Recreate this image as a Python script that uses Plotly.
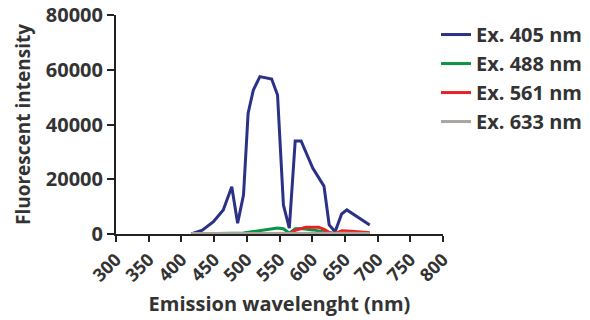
import plotly.graph_objects as go

wl_405 = [415, 432, 449, 464, 477, 486, 495, 502, 510, 520, 538, 547, 556, 565, 574, 583, 601, 618, 626, 635, 645, 653, 688]
int_405 = [0, 1400, 4500, 8800, 17300, 3900, 14300, 44100, 52600, 57500, 56600, 50800, 10600, 2100, 34000, 34000, 24000, 17500, 3300, 800, 7300, 8800, 3300]

wl_488 = [415, 449, 477, 495, 510, 530, 547, 556, 565, 574, 583, 601, 618, 626, 635, 653, 688]
int_488 = [0, 100, 200, 400, 900, 1500, 2200, 1900, 300, 1900, 2000, 1500, 800, 300, 100, 100, 50]

wl_561 = [565, 574, 590, 610, 618, 626, 635, 645, 660, 688]
int_561 = [0, 1300, 2500, 2500, 1700, 600, 100, 1200, 1000, 500]

wl_633 = [415, 450, 500, 550, 600, 650, 688]
int_633 = [150, 200, 250, 250, 250, 250, 200]

series = [
    ("Ex. 405 nm", wl_405, int_405, "#2B3186"),
    ("Ex. 488 nm", wl_488, int_488, "#0B9444"),
    ("Ex. 561 nm", wl_561, int_561, "#EC2024"),
    ("Ex. 633 nm", wl_633, int_633, "#ABA5A1"),
]

x_ticks = list(range(300, 801, 50))
y_ticks = [0, 20000, 40000, 60000, 80000]

fig = go.Figure()
for name, x, y, c in series:
    fig.add_trace(go.Scatter(x=x, y=y, mode="lines", name=name, legendgroup=name,
                             line=dict(color=c, width=3)))

font_fam = "Open Sans, sans-serif"
txt = "#333333"
fig.update_layout(
    width=590, height=320,
    margin=dict(l=116, r=147, t=15, b=86, autoexpand=False),
    plot_bgcolor="white", paper_bgcolor="white",
    font=dict(family=font_fam, color=txt, size=16),
    legend=dict(x=0.739, y=0.953, xref="container", yref="container",
                xanchor="left", yanchor="top",
                bgcolor="rgba(0,0,0,0)",
                font=dict(size=20, color=txt, family=font_fam, weight="bold"),
                tracegroupgap=0, itemwidth=30),
    showlegend=True,
)
fig.update_xaxes(
    range=[300, 800], tickvals=x_ticks, ticktext=[str(v) for v in x_ticks],
    tickangle=-45, showgrid=False, zeroline=False, automargin=False,
    showline=True, linecolor="#222222", linewidth=2,
    ticks="outside", ticklen=6, tickwidth=2, tickcolor="#222222",
    tickfont=dict(size=18, color=txt, family=font_fam, weight="bold"),
    title=dict(text="Emission wavelenght (nm)",
               font=dict(size=20, color=txt, family=font_fam, weight="bold"), standoff=12),
)
fig.update_yaxes(
    range=[0, 80000], tickvals=y_ticks, ticktext=[str(v) for v in y_ticks],
    showgrid=False, zeroline=False, automargin=False,
    showline=True, linecolor="#222222", linewidth=2,
    ticks="outside", ticklen=7, tickwidth=2, tickcolor="#222222",
    tickfont=dict(size=20, color=txt, family=font_fam, weight="bold"),
    title=dict(text="Fluorescent intensity",
               font=dict(size=19, color=txt, family=font_fam, weight="bold"), standoff=10),
)
fig.write_html("out.html", config={"displayModeBar": False},
               post_script="document.body.style.margin='0';")
